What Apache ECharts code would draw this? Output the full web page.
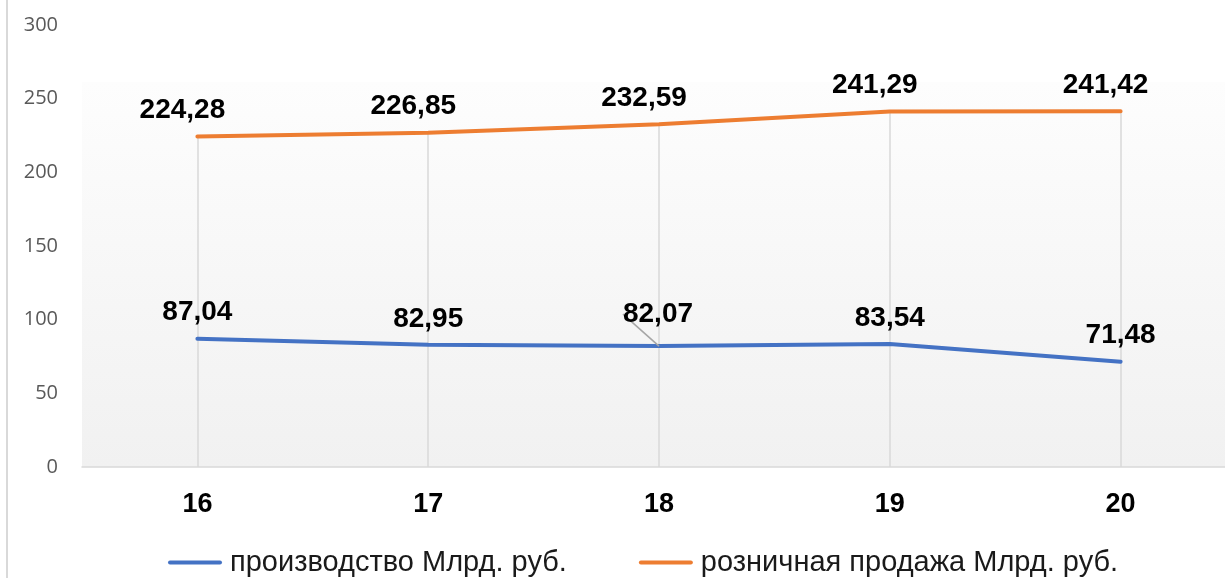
<!DOCTYPE html>
<html>
<head>
<meta charset="utf-8">
<script src="https://cdn.jsdelivr.net/npm/echarts@6/dist/echarts.min.js"></script>
<style>
html,body{margin:0;padding:0;background:#fff;}
#chart{width:1225px;height:578px;}
</style>
</head>
<body>
<div id="chart"></div>
<script>
const categories = ['16', '17', '18', '19', '20'];
const production = [87.04, 82.95, 82.07, 83.54, 71.48];
const retail = [224.28, 226.85, 232.59, 241.29, 241.42];
const seriesNames = ['производство Млрд. руб.', 'розничная продажа Млрд. руб.'];
const yTicks = [0, 50, 100, 150, 200, 250, 300];
const leaderLabelIndex = 2; // label of production point drawn with a leader line

const fmt = v => v.toFixed(2).replace('.', ',');

const chart = echarts.init(document.getElementById('chart'), null, {renderer: 'canvas'});

const labelStyle = {
  show: true,
  position: 'top',
  distance: 12,
  offset: [-15, 0],
  fontFamily: 'Liberation Sans, Arial, sans-serif',
  fontWeight: 'bold',
  fontSize: 28,
  color: '#000',
  formatter: p => fmt(p.value)
};

const option = {
  animation: false,
  graphic: [{
    type: 'line',
    shape: {x1: 7, y1: 0, x2: 7, y2: 578},
    style: {stroke: '#d9d9d9', lineWidth: 2},
    silent: true
  }],
  grid: {
    left: 82, width: 1154, top: 25, bottom: 111,
    outerBoundsMode: 'none',
    containLabel: false,
    show: true, borderWidth: 0,
    backgroundColor: {
      type: 'linear', x: 0, y: 0, x2: 0, y2: 1,
      colorStops: [
        {offset: 0, color: '#ffffff'},
        {offset: 0.128, color: '#ffffff'},
        {offset: 0.13, color: '#fdfdfd'},
        {offset: 1, color: '#f1f1f1'}
      ]
    }
  },
  legend: {
    left: 163,
    top: 543,
    itemWidth: 54,
    itemHeight: 14,
    itemGap: 72,
    icon: 'path://M2,6 L52,6 A2,2 0 0 1 52,10 L2,10 A2,2 0 0 1 2,6 Z',
    textStyle: {fontFamily: 'Liberation Sans, Arial, sans-serif', fontSize: 29, color: '#1a1a1a', padding: [0, 0, 0, 3]},
    data: seriesNames
  },
  xAxis: {
    type: 'category',
    data: categories,
    boundaryGap: true,
    axisLine: {show: true, lineStyle: {color: '#d9d9d9', width: 1.5}},
    axisTick: {show: false},
    splitLine: {show: false},
    axisLabel: {
      margin: 24,
      fontFamily: 'Liberation Sans, Arial, sans-serif',
      fontWeight: 'bold',
      fontSize: 27,
      color: '#000'
    }
  },
  yAxis: {
    type: 'value',
    min: yTicks[0],
    max: yTicks[yTicks.length - 1],
    interval: 50,
    axisLine: {show: false},
    axisTick: {show: false},
    splitLine: {show: false},
    axisLabel: {
      margin: 24,
      fontFamily: 'Open Sans, Noto Sans, sans-serif',
      fontSize: 20,
      color: '#595959'
    }
  },
  series: [
    {
      name: seriesNames[0],
      type: 'line',
      data: production.map((v, i) => i === leaderLabelIndex
        ? {value: v, labelLine: {show: true}}
        : v),
      showSymbol: true,
      symbol: 'circle',
      symbolSize: 0,
      lineStyle: {color: '#4472c4', width: 4, cap: 'round'},
      itemStyle: {color: '#4472c4'},
      label: labelStyle,
      labelLine: {show: false, lineStyle: {color: '#a6a6a6', width: 1.5}},
      labelLayout: function (params) {
        if (params.dataIndex === leaderLabelIndex) {
          return {dx: -1, dy: -6};
        }
        return {};
      },
      z: 3
    },
    {
      name: seriesNames[1],
      type: 'line',
      data: retail,
      showSymbol: true,
      symbol: 'circle',
      symbolSize: 0,
      lineStyle: {color: '#ed7d31', width: 4, cap: 'round'},
      itemStyle: {color: '#ed7d31'},
      label: labelStyle,
      z: 3,
      markLine: {
        silent: true,
        symbol: 'none',
        label: {show: false},
        lineStyle: {color: '#d9d9d9', width: 1.5, type: 'solid'},
        data: retail.map((v, i) => [
          {coord: [categories[i], v]},
          {coord: [categories[i], 0]}
        ]),
        z: 1
      }
    }
  ]
};

chart.setOption(option);
</script>
</body>
</html>
